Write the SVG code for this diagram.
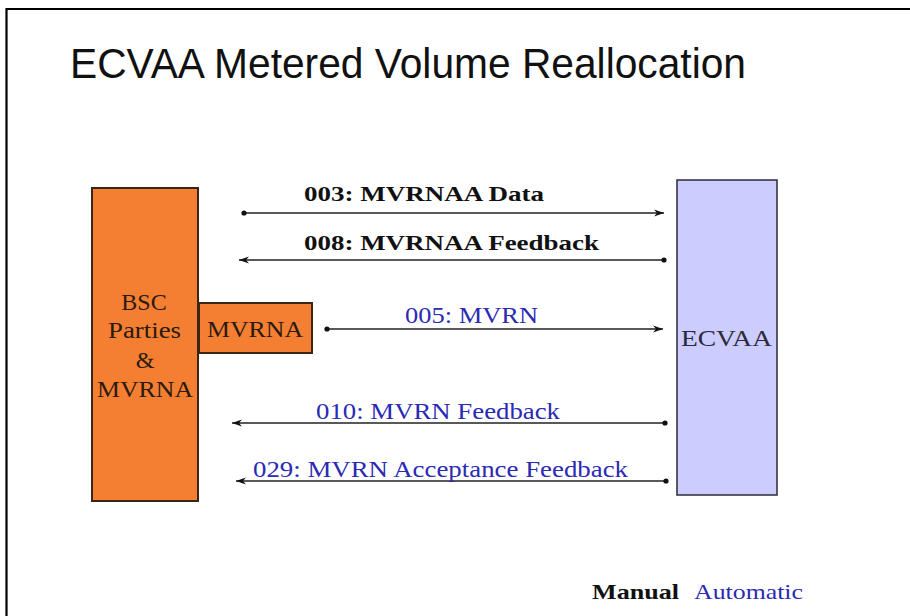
<svg xmlns="http://www.w3.org/2000/svg" width="910" height="616" viewBox="0 0 910 616">
<style>
.serif{font-family:"Liberation Serif","Times New Roman",serif;}
.blk{fill:#111;}
.blue{fill:#2a2ab4;}
.bold{font-weight:bold;}
.conn{stroke:#222;stroke-width:1.6;fill:none;marker-start:url(#dot);marker-end:url(#arr);}
.boxO{fill:#f47f33;stroke:#3a2414;stroke-width:2;}
.boxB{fill:#ccccff;stroke:#2a2a3a;stroke-width:1.5;}
</style>
<defs>
<marker id="arr" markerUnits="userSpaceOnUse" markerWidth="14" markerHeight="10" refX="10" refY="5" orient="auto">
<path d="M0,1.5 L10,5 L0,8.5 L3,5 Z" fill="#111"/>
</marker>
<marker id="dot" markerUnits="userSpaceOnUse" markerWidth="8" markerHeight="8" refX="4" refY="4" orient="auto">
<circle cx="4" cy="4" r="2.6" fill="#111"/>
</marker>
</defs>
<rect width="910" height="616" fill="#ffffff"/>
<path d="M6.5,616 V9 H910" fill="none" stroke="#000" stroke-width="2.2"/>
<text x="70" y="78" font-family="'Liberation Sans',Arial,sans-serif" font-size="42" fill="#111" textLength="676" lengthAdjust="spacingAndGlyphs">ECVAA Metered Volume Reallocation</text>

<g id="bsc">
<rect class="boxO" x="92" y="188" width="106" height="313"/>
<text class="serif" font-size="24" fill="#2a1a10" text-anchor="middle" x="144" y="310">BSC</text>
<text class="serif" font-size="24" fill="#2a1a10" x="108" y="338" textLength="73" lengthAdjust="spacingAndGlyphs">Parties</text>
<text class="serif" font-size="24" fill="#2a1a10" text-anchor="middle" x="145" y="368">&amp;</text>
<text class="serif" font-size="24" fill="#2a1a10" x="97" y="397" textLength="96" lengthAdjust="spacingAndGlyphs">MVRNA</text>
</g>
<g id="mvrna">
<rect class="boxO" x="199" y="303" width="113" height="50"/>
<text class="serif" font-size="24" fill="#2a1a10" x="207" y="337" textLength="96" lengthAdjust="spacingAndGlyphs">MVRNA</text>
</g>
<g id="ecvaa">
<rect class="boxB" x="677" y="180" width="100" height="315"/>
<text class="serif" font-size="24" fill="#2a2a3a" x="681" y="346" textLength="91" lengthAdjust="spacingAndGlyphs">ECVAA</text>
</g>

<g id="connectors">
<line class="conn" x1="244" y1="213" x2="664" y2="213"/>
<line class="conn" x1="664" y1="260" x2="239" y2="260"/>
<line class="conn" x1="327" y1="329" x2="663" y2="329"/>
<line class="conn" x1="665" y1="423" x2="232" y2="423"/>
<line class="conn" x1="666" y1="481" x2="236" y2="481"/>
<text class="serif bold blk" font-size="22" x="304" y="201" textLength="240" lengthAdjust="spacingAndGlyphs">003: MVRNAA Data</text>
<text class="serif bold blk" font-size="22" x="304" y="250" textLength="295" lengthAdjust="spacingAndGlyphs">008: MVRNAA Feedback</text>
<text class="serif blue" font-size="23" x="405" y="323" textLength="133" lengthAdjust="spacingAndGlyphs">005: MVRN</text>
<text class="serif blue" font-size="23" x="316" y="419" textLength="244" lengthAdjust="spacingAndGlyphs">010: MVRN Feedback</text>
<text class="serif blue" font-size="23" x="253" y="477" textLength="375" lengthAdjust="spacingAndGlyphs">029: MVRN Acceptance Feedback</text>
</g>

<text class="serif bold blk" font-size="21" x="592" y="599" textLength="87" lengthAdjust="spacingAndGlyphs">Manual</text>
<text class="serif blue" font-size="21" x="694" y="599" textLength="109" lengthAdjust="spacingAndGlyphs">Automatic</text>
</svg>
